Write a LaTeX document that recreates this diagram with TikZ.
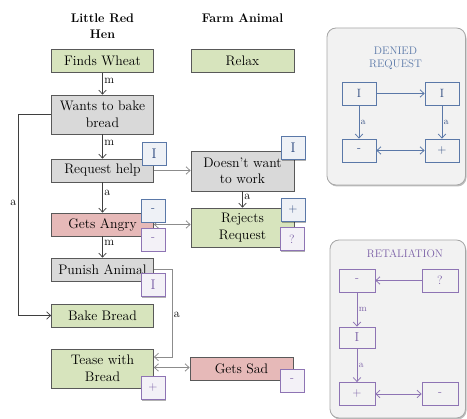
\documentclass[tikz,border=0pt]{standalone}
\usepackage{fontspec}
\usetikzlibrary{arrows.meta,shadows,calc}
\definecolor{boxline}{HTML}{595959}
\definecolor{greenfill}{HTML}{D7E4BD}
\definecolor{grayfill}{HTML}{D9D9D9}
\definecolor{pinkfill}{HTML}{E6B9B8}
\definecolor{linkdark}{HTML}{3F3F3F}
\definecolor{linkgray}{HTML}{8C8C8C}
\definecolor{blueline}{HTML}{5A78A8}
\definecolor{bluetext}{HTML}{2E4A80}
\definecolor{bluefill}{HTML}{EEF1F6}
\definecolor{purpline}{HTML}{8E74B4}
\definecolor{purptext}{HTML}{7A5FA6}
\definecolor{purpfill}{HTML}{F3F1F7}
\definecolor{panelfill}{HTML}{F2F2F2}
\definecolor{panelline}{HTML}{A6A6A6}
\begin{document}
\begin{tikzpicture}[x=1pt,y=-1pt,
  tip/.style={-{Straight Barb[length=4pt,width=7.5pt]}},
  bitip/.style={{Straight Barb[length=4pt,width=7.5pt]}-{Straight Barb[length=4pt,width=7.5pt]}},
  stepbox/.style={draw=boxline,line width=0.8pt,inner sep=0pt,align=center,
    font=\fontsize{13.8}{16.5}\selectfont,minimum width=102pt,minimum height=23pt},
  greenbox/.style={stepbox,fill=greenfill},
  graybox/.style={stepbox,fill=grayfill},
  pinkbox/.style={stepbox,fill=pinkfill},
  header/.style={font=\bfseries\fontsize{12.5}{16.5}\selectfont,align=center},
  badge/.style={line width=0.9pt,minimum width=24pt,minimum height=23pt,inner sep=0pt,
    font=\fontsize{12}{14}\selectfont,
    drop shadow={shadow xshift=1.3pt,shadow yshift=-1.3pt,opacity=0.3,fill=black}},
  bbadge/.style={badge,draw=blueline,fill=bluefill,text=bluetext},
  pbadge/.style={badge,draw=purpline,fill=purpfill,text=purptext},
  mainlink/.style={draw=linkdark,line width=0.7pt,tip},
  sidelink/.style={draw=linkgray,line width=0.8pt},
  lbl/.style={font=\fontsize{12}{14}\selectfont,inner sep=1.5pt},
  panel/.style={fill=panelfill,draw=panelline,line width=0.8pt,rounded corners=9pt,
    drop shadow={shadow xshift=1pt,shadow yshift=-1.5pt,opacity=0.25,fill=black}},
  ptitle/.style={font=\fontsize{11}{13.5}\selectfont,align=center},
  pbox/.style={line width=0.8pt,minimum width=34pt,minimum height=23pt,inner sep=0pt,
    font=\fontsize{12}{14}\selectfont},
  bpbox/.style={pbox,draw=blueline,text=bluetext},
  ppbox/.style={pbox,draw=purpline,text=purptext},
  plbl/.style={font=\fontsize{9.5}{11}\selectfont,inner sep=1.5pt},
]
\useasboundingbox (0,0) rectangle (467,419);

% column headings
\node[header] (hen) at (102.5,26) {Little Red\\Hen};
\node[header] (animal) at (242.5,18) {Farm Animal};

% hen's steps
\node[greenbox] (fw) at (102.5,61) {Finds Wheat};
\node[graybox,minimum height=39pt] (wb) at (102.5,114.5) {Wants to bake\\bread};
\node[graybox] (rh) at (102.5,170.5) {Request help};
\node[pinkbox] (ga) at (102.5,224.5) {Gets Angry};
\node[graybox] (pa) at (102.5,269.5) {Punish Animal};
\node[greenbox] (bb) at (102.5,315.5) {Bake Bread};
\node[greenbox,minimum height=39pt] (tb) at (102.5,368.5) {Tease with\\Bread};

% animal's steps
\node[greenbox,minimum width=103pt] (rx) at (242.5,61) {Relax};
\node[graybox,minimum width=103pt,minimum height=40pt] (dw) at (242.5,171) {Doesn't want\\to work};
\node[greenbox,minimum width=103pt,minimum height=39pt] (rr) at (242.5,227.5) {Rejects\\Request};
\node[pinkbox,minimum width=103pt] (gs) at (241.5,368.5) {Gets Sad};

% hen's chain
\draw[mainlink] (fw) -- node[lbl,right,pos=0.35] {m} (wb);
\draw[mainlink] (wb) -- node[lbl,right,pos=0.35] {m} (rh);
\draw[mainlink] (rh) -- node[lbl,right,pos=0.35] {a} (ga);
\draw[mainlink] (ga) -- node[lbl,right,pos=0.3] {m} (pa);
\draw[mainlink] (wb.west) -- ++(-33,0) |- node[lbl,left,pos=0.22] {a} (bb.west);
\draw[mainlink] (dw) -- node[lbl,right,pos=0.35] {a} (rr);

% links between the two sides
\draw[sidelink,tip] (rh.east) -- (rh.east -| dw.west);
\draw[sidelink,bitip] (ga.east) -- (ga.east -| rr.west);
\draw[sidelink,tip] (pa.east) -- ++(18,0) coordinate (pr) |- node[lbl,right,pos=0.26,text=black] {a} ($(tb.east)+(0,-11.5)$);
\draw[sidelink,bitip] ($(tb.east)+(0,-1)$) -- ($(tb.east -| gs.west)+(0,-1)$);

% role badges
\node[bbadge] (b1) at (154,153.5) {\fontsize{14}{14}\selectfont I};
\node[bbadge] (b2) at (293,148) {\fontsize{14}{14}\selectfont I};
\node[bbadge] (b3) at (153,210.5) {-};
\node[pbadge] (b4) at (153,239.5) {-};
\node[bbadge] (b5) at (293,210) {+};
\node[pbadge] (b6) at (292,239) {?};
\node[pbadge] (b7) at (153,285) {\fontsize{14}{14}\selectfont I};
\node[pbadge] (b8) at (153,388) {+};
\node[pbadge] (b9) at (292,380.5) {-};

% denied request pattern
\path[panel] (327,28) rectangle (465.5,185);
\node[ptitle,text=blueline] (dtitle) at (395.5,58.5) {DENIED\\REQUEST};
\node[bpbox] (d1) at (359,93.5) {I};
\node[bpbox] (d2) at (442,93.5) {I};
\node[bpbox] (d3) at (359,150.5) {-};
\node[bpbox] (d4) at (442,150.5) {+};
\draw[blueline,line width=0.8pt,tip] (d1) -- (d2);
\draw[blueline,line width=0.8pt,tip] (d1) -- node[plbl,right,text=bluetext] {a} (d3);
\draw[blueline,line width=0.8pt,tip] (d2) -- node[plbl,right,text=bluetext] {a} (d4);
\draw[blueline,line width=0.8pt,bitip] (d3) -- (d4);

% retaliation pattern
\path[panel] (330,240) rectangle (465.5,418);
\node[ptitle,text=purptext] (rtitle) at (405,254) {RETALIATION};
\node[ppbox,minimum width=36pt] (r1) at (357,280.5) {-};
\node[ppbox,minimum width=36pt] (r2) at (440,280.5) {?};
\node[ppbox,minimum width=36pt,minimum height=21pt] (r3) at (357,337.5) {\fontsize{13}{14}\selectfont I};
\node[ppbox,minimum width=36pt] (r4) at (357,394) {+};
\node[ppbox,minimum width=36pt] (r5) at (440,394) {-};
\draw[purpline,line width=0.8pt,tip] (r2) -- (r1);
\draw[purpline,line width=0.8pt,tip] (r1) -- node[plbl,right,text=purptext] {m} (r3);
\draw[purpline,line width=0.8pt,tip] (r3) -- node[plbl,right,text=purptext] {a} (r4);
\draw[purpline,line width=0.8pt,bitip] (r4) -- (r5);
\end{tikzpicture}
\end{document}
